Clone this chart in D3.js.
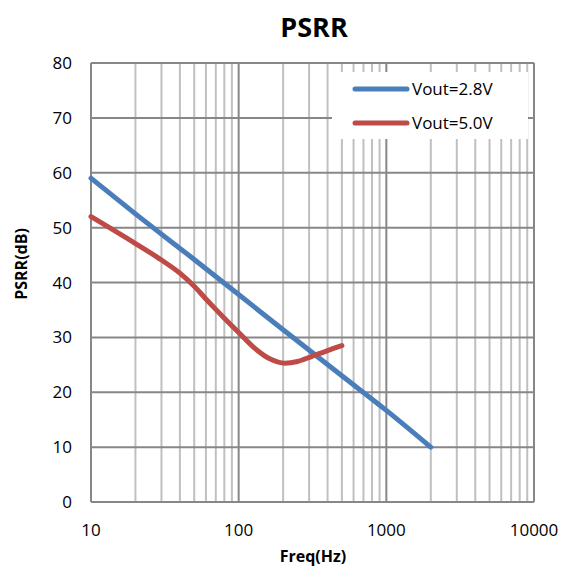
<!DOCTYPE html>
<html>
<head>
<meta charset="utf-8">
<script src="https://cdn.jsdelivr.net/npm/d3@7"></script>
<style>
  body { margin: 0; background: #fff; }
  text { font-family: "Open Sans", "Noto Sans", sans-serif; fill: #000; }
</style>
</head>
<body>
<svg id="chart" width="566" height="567"></svg>
<script>
// data
var freq28 = [10, 20, 50, 100, 200, 500, 1000, 2000];
var psrr28 = [59, 52.5, 44.2, 37.8, 31.4, 23.0, 16.7, 10];

var freq50 = [10, 20, 30, 40, 50, 60, 70, 80, 100, 130, 165, 205, 250, 310, 400, 500];
var psrr50 = [52, 47.1, 44.1, 41.7, 39.3, 37.0, 35.1, 33.5, 30.9, 27.9, 26.0, 25.3, 25.6, 26.5, 27.6, 28.5];

var seriesNames = ["Vout=2.8V", "Vout=5.0V"];
var seriesColors = ["#4a7ebb", "#be4b48"];
var xTicks = [10, 100, 1000, 10000];
var yTicks = [0, 10, 20, 30, 40, 50, 60, 70, 80];

var svg = d3.select("#chart");

var x = d3.scaleLog().domain([10, 10000]).range([91, 534]);
var y = d3.scaleLinear().domain([0, 80]).range([502, 63]);

// minor gridlines (2..9 of each decade)
var minor = [];
[10, 100, 1000].forEach(function (d) {
	for (var k = 2; k <= 9; k++) minor.push(d * k);
});

svg.append("g").selectAll("line")
	.data(minor)
	.enter().append("line")
	.attr("x1", function (d) { return x(d); })
	.attr("x2", function (d) { return x(d); })
	.attr("y1", y(80))
	.attr("y2", y(0))
	.style("stroke", "#c0c0c0")
	.style("stroke-width", 2);

// major gridlines
svg.append("g").selectAll("line")
	.data(yTicks)
	.enter().append("line")
	.attr("x1", x(10))
	.attr("x2", x(10000))
	.attr("y1", function (d) { return y(d); })
	.attr("y2", function (d) { return y(d); })
	.style("stroke", "#878787")
	.style("stroke-width", 2);

svg.append("g").selectAll("line")
	.data(xTicks)
	.enter().append("line")
	.attr("x1", function (d) { return x(d); })
	.attr("x2", function (d) { return x(d); })
	.attr("y1", y(80))
	.attr("y2", y(0))
	.style("stroke", "#878787")
	.style("stroke-width", 2);

// legend background covers the grid
svg.append("rect")
	.attr("x", 332)
	.attr("y", 72)
	.attr("width", 196)
	.attr("height", 67)
	.style("fill", "#fff");

// tick labels
svg.append("g").selectAll("text")
	.data(yTicks)
	.enter().append("text")
	.attr("x", 72)
	.attr("y", function (d) { return y(d); })
	.attr("dy", "0.36em")
	.style("text-anchor", "end")
	.style("font-size", "17px")
	.text(function (d) { return d; });

svg.append("g").selectAll("text")
	.data(xTicks)
	.enter().append("text")
	.attr("x", function (d) { return x(d); })
	.attr("y", 530)
	.attr("dy", "0.36em")
	.style("text-anchor", "middle")
	.style("font-size", "17px")
	.text(function (d) { return d; });

// series
var line = d3.line()
	.x(function (d) { return x(d[0]); })
	.y(function (d) { return y(d[1]); })
	.curve(d3.curveMonotoneX);

var series = [d3.zip(freq28, psrr28), d3.zip(freq50, psrr50)];

svg.append("g").selectAll("path")
	.data(series)
	.enter().append("path")
	.attr("d", line)
	.style("fill", "none")
	.style("stroke", function (d, i) { return seriesColors[i]; })
	.style("stroke-width", 5)
	.style("stroke-linecap", "round");

// legend
var legend = svg.append("g").selectAll("g")
	.data(seriesNames)
	.enter().append("g")
	.attr("transform", function (d, i) {
		return "translate(0," + (89 + i * 34) + ")";
	});

legend.append("line")
	.attr("x1", 355)
	.attr("x2", 407)
	.style("stroke", function (d, i) { return seriesColors[i]; })
	.style("stroke-width", 5)
	.style("stroke-linecap", "round");

legend.append("text")
	.attr("x", 412)
	.attr("dy", "0.36em")
	.style("font-size", "17px")
	.text(function (d) { return d; });

// titles
svg.append("text")
	.attr("x", 314)
	.attr("y", 37)
	.style("text-anchor", "middle")
	.style("font-size", "27px")
	.style("font-weight", "bold")
	.text("PSRR");

svg.append("text")
	.attr("transform", "translate(27,264) rotate(-90)")
	.style("text-anchor", "middle")
	.style("font-size", "16px")
	.style("font-weight", "bold")
	.text("PSRR(dB)");

svg.append("text")
	.attr("x", 313)
	.attr("y", 562)
	.style("text-anchor", "middle")
	.style("font-size", "16px")
	.style("font-weight", "bold")
	.text("Freq(Hz)");
</script>
</body>
</html>
